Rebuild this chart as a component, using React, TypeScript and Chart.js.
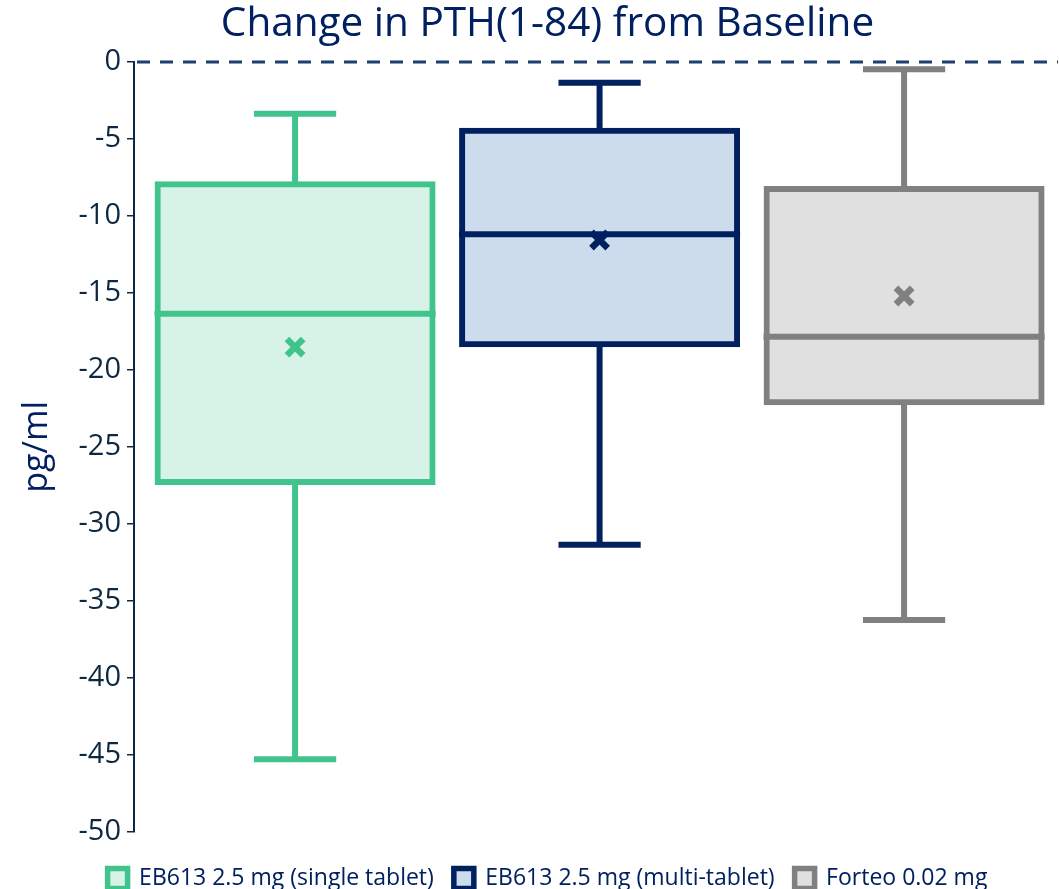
import React, { useEffect, useRef } from "react";
import { Chart, registerables } from "chart.js";

Chart.register(...registerables);

const categories = [
  "EB613 2.5 mg (single tablet)",
  "EB613 2.5 mg (multi-tablet)",
  "Forteo 0.02 mg",
];
const whiskerMax = [-3.35, -1.35, -0.46];
const q3 = [-7.94, -4.46, -8.24];
const median = [-16.35, -11.18, -17.85];
const q1 = [-27.28, -18.33, -22.1];
const whiskerMin = [-45.3, -31.37, -36.25];
const mean = [-18.52, -11.56, -15.2];

const lineColors = ["#40c48c", "#002060", "#808080"];
const fillColors = ["#d7f3e7", "#cddcec", "#e0e0e0"];

const yMin = -50;
const yMax = 0;
const yStep = 5;

const titleText = "Change in PTH(1-84) from Baseline";
const yTitle = "pg/ml";

const FONT = "'Open Sans', 'Noto Sans', sans-serif";
const NAVY_TEXT = "#0e2841";
const TITLE_COLOR = "#002060";

const X_MIN = -0.529;
const X_UNIT_PX = 304.5;

const boxPlugin = {
  id: "boxExtras",
  beforeDatasetsDraw(chart: any) {
    const { ctx, chartArea, scales } = chart;
    const y0 = scales.y.getPixelForValue(0);
    ctx.save();
    ctx.strokeStyle = "#1b3f6e";
    ctx.lineWidth = 3;
    ctx.setLineDash([13, 10]);
    ctx.beginPath();
    ctx.moveTo(chartArea.left + 3, y0);
    ctx.lineTo(chart.width - 1, y0);
    ctx.stroke();
    ctx.restore();

    // whiskers
    ctx.save();
    ctx.lineWidth = 6;
    ctx.lineCap = "butt";
    for (let i = 0; i < categories.length; i++) {
      const xs = scales.x;
      const cx = xs.getPixelForValue(i);
      const capL = xs.getPixelForValue(i - 0.135);
      const capR = xs.getPixelForValue(i + 0.135);
      ctx.strokeStyle = lineColors[i];
      const yTop = scales.y.getPixelForValue(whiskerMax[i]);
      const yQ3 = scales.y.getPixelForValue(q3[i]);
      const yQ1 = scales.y.getPixelForValue(q1[i]);
      const yBot = scales.y.getPixelForValue(whiskerMin[i]);
      ctx.beginPath();
      ctx.moveTo(cx, yQ3);
      ctx.lineTo(cx, yTop);
      ctx.moveTo(capL, yTop);
      ctx.lineTo(capR, yTop);
      ctx.moveTo(cx, yQ1);
      ctx.lineTo(cx, yBot);
      ctx.moveTo(capL, yBot);
      ctx.lineTo(capR, yBot);
      ctx.stroke();
    }
    ctx.restore();
  },
  afterDatasetsDraw(chart: any) {
    const { ctx, scales } = chart;
    ctx.save();
    ctx.lineWidth = 6;
    for (let i = 0; i < categories.length; i++) {
      const el = chart.getDatasetMeta(i).data[0];
      if (!el) continue;
      const half = el.width / 2 + 3;
      const ym = scales.y.getPixelForValue(median[i]);
      ctx.strokeStyle = lineColors[i];
      ctx.beginPath();
      ctx.moveTo(el.x - half, ym);
      ctx.lineTo(el.x + half, ym);
      ctx.stroke();
    }
    ctx.restore();
  },
};

export default function App() {
  const ref = useRef<HTMLCanvasElement>(null);

  useEffect(() => {
    if (!ref.current) return;
    const datasets: any[] = categories.map((c, i) => ({
      type: "bar",
      label: c,
      data: [{ x: i, y: [q1[i], q3[i]] }],
      backgroundColor: fillColors[i],
      borderColor: lineColors[i],
      borderWidth: 6,
      borderSkipped: false,
      inflateAmount: 3,
      barThickness: 275,
      grouped: false,
      clip: false,
      order: 2,
    }));
    datasets.push({
      type: "scatter",
      label: "Mean",
      data: mean.map((m, i) => ({ x: i, y: m })),
      pointStyle: "crossRot",
      radius: 11.5,
      borderWidth: 6.5,
      borderColor: lineColors,
      backgroundColor: lineColors,
      clip: false,
      order: 0,
    });

    const chart = new Chart(ref.current, {
      type: "bar",
      data: { datasets },
      plugins: [boxPlugin],
      options: {
        responsive: false,
        animation: false,
        layout: { padding: { left: 38, right: 2, top: 0, bottom: -11 } },
        plugins: {
          tooltip: { enabled: false },
          title: {
            display: true,
            text: titleText,
            color: TITLE_COLOR,
            font: { family: FONT, size: 40.5, weight: "normal" },
            padding: { top: 0, bottom: 13.5 },
          },
          legend: {
            position: "bottom",
            labels: {
              font: { family: FONT, size: 23 },
              color: TITLE_COLOR,
              boxWidth: 20,
              boxHeight: 20,
              padding: 20,
              filter: (item: any) => item.text !== "Mean",
              generateLabels: (chart: any) => {
                const items = (Chart.defaults.plugins.legend.labels as any).generateLabels(chart);
                return items.map((it: any) => ({ ...it, lineWidth: 5.5 }));
              },
            },
          },
        },
        scales: {
          x: {
            type: "linear",
            offset: false,
            bounds: "data",
            min: X_MIN,
            max: 2.502,
            display: true,
            ticks: { display: false },
            grid: { display: false },
            border: { display: false },
            afterDataLimits: (scale: any) => {
              if (scale.width > 0) {
                scale.min = X_MIN;
                scale.max = X_MIN + scale.width / X_UNIT_PX;
              }
            },
            afterFit: (scale: any) => {
              scale.height = 15.5;
              scale.paddingLeft = 0;
              scale.paddingRight = 0;
            },
          },
          y: {
            min: yMin,
            max: yMax,
            afterFit: (scale: any) => {
              scale.width = 96;
            },
            ticks: {
              stepSize: yStep,
              color: NAVY_TEXT,
              font: { family: FONT, size: 29 },
              padding: 6,
            },
            grid: {
              drawOnChartArea: false,
              drawTicks: true,
              tickLength: 7,
              color: NAVY_TEXT,
              lineWidth: 1.5,
            },
            border: { display: true, color: NAVY_TEXT, width: 2 },
            title: {
              display: true,
              text: yTitle,
              color: TITLE_COLOR,
              font: { family: FONT, size: 34 },
              padding: { top: -21.4, bottom: 0 },
            },
          },
        },
      } as any,
    });
    return () => chart.destroy();
  }, []);

  return (
    <div style={{ position: "fixed", left: 0, top: 0, width: 1059, height: 889, background: "#fff" }}>
      <canvas ref={ref} width={1059} height={889} />
    </div>
  );
}
